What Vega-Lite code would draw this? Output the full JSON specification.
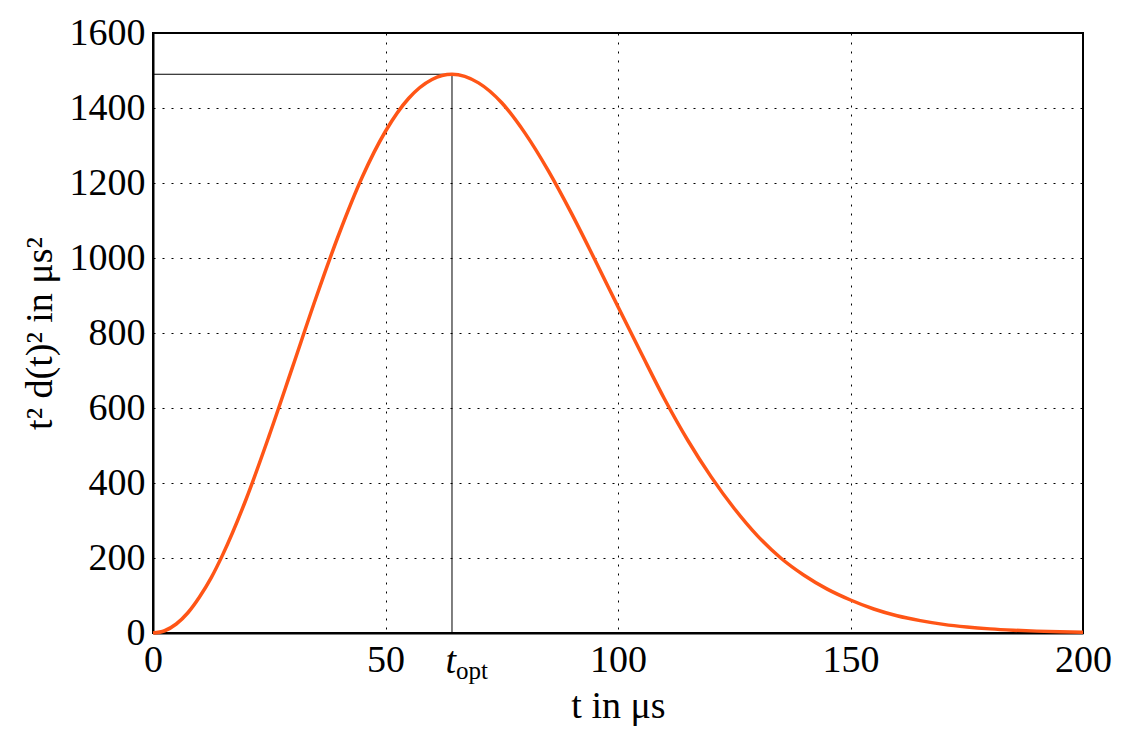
{
  "$schema": "https://vega.github.io/schema/vega-lite/v6.json",
  "width": 930,
  "height": 600,
  "autosize": {"type": "none"},
  "padding": {"left": 153, "top": 33, "right": 45, "bottom": 109},
  "background": "white",
  "config": {
    "view": {"stroke": "black", "strokeWidth": 2},
    "font": "Liberation Serif",
    "axis": {
      "labelFont": "Liberation Serif",
      "titleFont": "Liberation Serif",
      "labelFontSize": 38,
      "titleFontSize": 38,
      "labelColor": "black",
      "titleColor": "black",
      "titleFontWeight": "normal",
      "domainColor": "black",
      "domainWidth": 2,
      "ticks": false,
      "gridColor": "black",
      "gridWidth": 1,
      "gridDash": [2, 7],
      "gridOpacity": 1,
      "labelFlush": false,
      "labelOverlap": false,
      "format": "d"
    }
  },
  "datasets": {
    "curve": [
      {"t": 0, "v": 0},
      {"t": 2.5, "v": 6},
      {"t": 5, "v": 24},
      {"t": 7.5, "v": 54},
      {"t": 10, "v": 96},
      {"t": 12.5, "v": 147},
      {"t": 15, "v": 209},
      {"t": 20, "v": 356},
      {"t": 25, "v": 527},
      {"t": 30, "v": 709},
      {"t": 35, "v": 892},
      {"t": 40, "v": 1064},
      {"t": 45, "v": 1216},
      {"t": 50, "v": 1338},
      {"t": 55, "v": 1426},
      {"t": 60, "v": 1476},
      {"t": 64.3, "v": 1490},
      {"t": 70, "v": 1467},
      {"t": 75, "v": 1414},
      {"t": 80, "v": 1333},
      {"t": 85, "v": 1233},
      {"t": 90, "v": 1119},
      {"t": 95, "v": 996},
      {"t": 100, "v": 870},
      {"t": 105, "v": 746},
      {"t": 110, "v": 624},
      {"t": 115, "v": 514},
      {"t": 120, "v": 417},
      {"t": 125, "v": 332},
      {"t": 130, "v": 259},
      {"t": 135, "v": 200},
      {"t": 140, "v": 154},
      {"t": 145, "v": 117},
      {"t": 150, "v": 88},
      {"t": 155, "v": 64},
      {"t": 160, "v": 46},
      {"t": 165, "v": 33},
      {"t": 170, "v": 23},
      {"t": 175, "v": 16},
      {"t": 180, "v": 11},
      {"t": 185, "v": 7.5},
      {"t": 190, "v": 5},
      {"t": 195, "v": 3.3},
      {"t": 200, "v": 2.2}
    ],
    "optimum": [
      {"t0": 0, "t": 64.3, "v0": 0, "v": 1490, "sym": "t", "sub": "opt"}
    ]
  },
  "layer": [
    {
      "data": {"name": "optimum"},
      "mark": {"type": "rule", "color": "black", "strokeWidth": 1},
      "encoding": {
        "x": {"field": "t0", "type": "quantitative", "scale": {"domain": [0, 200], "nice": false}},
        "x2": {"field": "t"},
        "y": {"field": "v", "type": "quantitative"}
      }
    },
    {
      "data": {"name": "optimum"},
      "mark": {"type": "rule", "color": "black", "strokeWidth": 1},
      "encoding": {
        "x": {"field": "t", "type": "quantitative"},
        "y": {"field": "v0", "type": "quantitative"},
        "y2": {"field": "v"}
      }
    },
    {
      "data": {"name": "curve"},
      "mark": {"type": "line", "color": "#ff5516", "strokeWidth": 3.5, "interpolate": "monotone"},
      "encoding": {
        "x": {
          "field": "t",
          "type": "quantitative",
          "scale": {"domain": [0, 200], "nice": false},
          "axis": {"values": [0, 50, 100, 150, 200], "format": "d", "title": "t in μs", "labelPadding": 8, "titlePadding": 8}
        },
        "y": {
          "field": "v",
          "type": "quantitative",
          "scale": {"domain": [0, 1600], "nice": false},
          "axis": {"values": [0, 200, 400, 600, 800, 1000, 1200, 1400, 1600], "format": "d", "title": "t² d(t)² in μs²", "labelPadding": 8, "titlePadding": 10}
        }
      }
    },
    {
      "data": {"name": "optimum"},
      "mark": {"type": "text", "font": "Liberation Serif", "fontStyle": "italic", "fontSize": 38, "baseline": "top", "align": "right", "dx": 4, "dy": 10, "color": "black"},
      "encoding": {
        "x": {"field": "t", "type": "quantitative"},
        "y": {"field": "v0", "type": "quantitative"},
        "text": {"field": "sym"}
      }
    },
    {
      "data": {"name": "optimum"},
      "mark": {"type": "text", "font": "Liberation Serif", "fontSize": 25, "baseline": "top", "align": "left", "dx": 4, "dy": 26, "color": "black"},
      "encoding": {
        "x": {"field": "t", "type": "quantitative"},
        "y": {"field": "v0", "type": "quantitative"},
        "text": {"field": "sub"}
      }
    }
  ]
}
